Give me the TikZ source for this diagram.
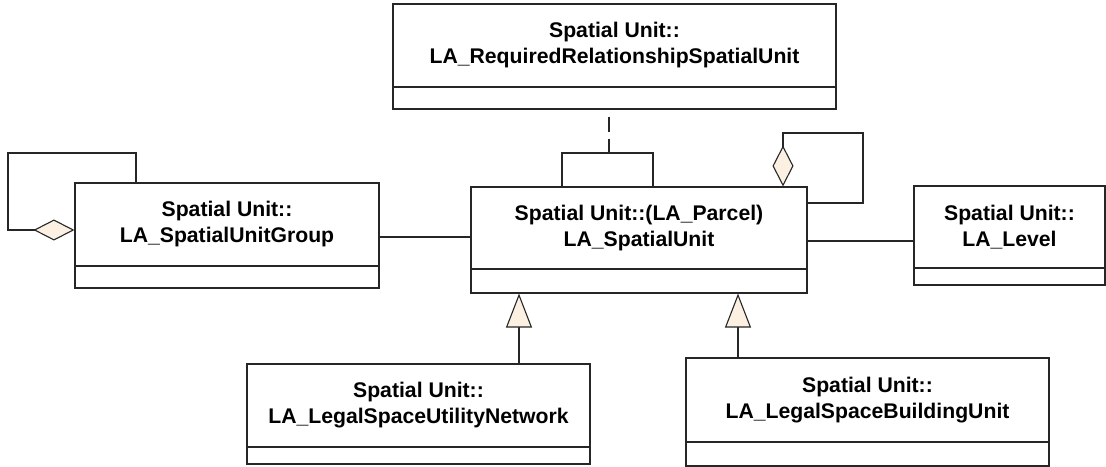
\documentclass[tikz,border=0pt]{standalone}
\usepackage{fontspec}
\setmainfont{Liberation Sans}
\usetikzlibrary{positioning,arrows.meta}
\definecolor{tipfill}{RGB}{251,240,225}
\begin{document}
\begin{tikzpicture}[x=1pt, y=-1pt, line width=1.1pt, draw=black!85,
		every node/.style = {shape=rectangle, draw=black!85, line width=1.1pt, inner sep=0pt, align=center},
		cls/.style = {font=\bfseries\fontsize{21.2}{26}\selectfont, minimum height=83pt},
		compart/.style = {below=-1.1pt of #1},
		aggr/.style = {{Diamond[length=41pt, width=21pt, fill=tipfill]}-},
		gen/.style = {-{Triangle[length=34pt, width=26pt, fill=tipfill]}}]
	\useasboundingbox (0,0) rectangle (1106,466);
	% classes
	\node[cls, minimum width=443pt] (req) at (614.5,45.5) {Spatial Unit::\\LA\_RequiredRelationshipSpatialUnit};
	\node[compart=req, minimum width=443pt, minimum height=22pt] (reqA) {};
	\node[cls, minimum width=336pt, minimum height=82pt] (su) at (639,228) {Spatial Unit::(LA\_Parcel)\\LA\_SpatialUnit};
	\node[compart=su, minimum width=336pt, minimum height=24pt] (suA) {};
	\node[cls, minimum width=304pt] (grp) at (227,224.5) {Spatial Unit::\\LA\_SpatialUnitGroup};
	\node[compart=grp, minimum width=304pt, minimum height=22pt] (grpA) {};
	\node[cls, minimum width=191pt, minimum height=82pt] (lvl) at (1009.5,227) {Spatial Unit::\\LA\_Level};
	\node[compart=lvl, minimum width=191pt, minimum height=17pt] (lvlA) {};
	\node[cls, minimum width=343pt] (net) at (418.5,405.5) {Spatial Unit::\\LA\_LegalSpaceUtilityNetwork};
	\node[compart=net, minimum width=343pt, minimum height=17pt] (netA) {};
	\node[cls, minimum width=363pt, minimum height=84pt] (bld) at (867.5,400) {Spatial Unit::\\LA\_LegalSpaceBuildingUnit};
	\node[compart=bld, minimum width=363pt, minimum height=24pt] (bldA) {};
	% associations
	\coordinate (brk) at (609,153);
	\draw[dash pattern=on 15pt off 7pt] ([yshift=-7pt]reqA.south -| brk) -- (brk);
	\draw ([xshift=-77pt]su.north) |- (brk) -| ([xshift=14pt]su.north);
	\draw ([yshift=-12.5pt]grp.east) -- ([yshift=-12.5pt]grp.east -| su.west);
	\draw ([yshift=-13pt]su.east) -- ([yshift=-13pt]su.east -| lvl.west);
	\draw[aggr] ([xshift=144pt]su.north) |- (863,133) |- ([yshift=25pt]su.east);
	\draw[aggr] ([yshift=-5.5pt]grp.west) -| (8,153) -| ([xshift=-91pt]grp.north);
	% generalisations
	\draw[gen] ([xshift=100.5pt]net.north) -- ([xshift=100.5pt]net.north |- suA.south);
	\draw[gen] ([xshift=-129.5pt]bld.north) -- ([xshift=-129.5pt]bld.north |- suA.south);
\end{tikzpicture}
\end{document}
